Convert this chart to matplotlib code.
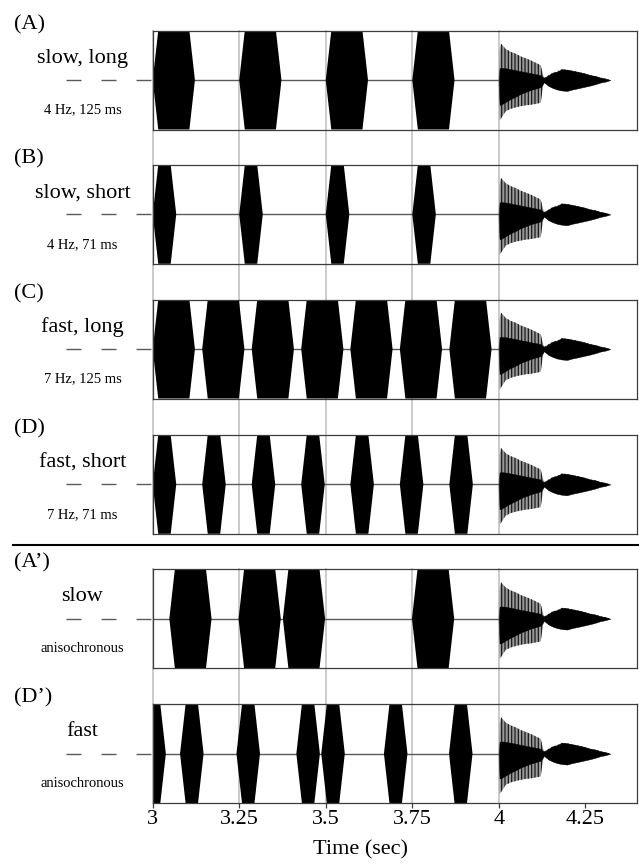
import matplotlib
matplotlib.use("Agg")
import matplotlib.pyplot as plt
from matplotlib.lines import Line2D
from matplotlib import transforms

plt.rcParams['font.family'] = ['Liberation Serif', 'DejaVu Serif']
plt.rcParams['hatch.linewidth'] = 0.9

# ---------------- data ----------------
panel_letters = ['(A)', '(B)', '(C)', '(D)', '(A\u2019)', '(D\u2019)']
panel_titles = ['slow, long', 'slow, short', 'fast, long', 'fast, short', 'slow', 'fast']
panel_notes = ['4 Hz, 125 ms', '4 Hz, 71 ms', '7 Hz, 125 ms', '7 Hz, 71 ms',
               'anisochronous', 'anisochronous']

onsets_A = [3.0, 3.25, 3.5, 3.75]
onsets_B = [3.0, 3.25, 3.5, 3.75]
onsets_C = [3.0, 3.143, 3.286, 3.429, 3.571, 3.714, 3.857]
onsets_D = [3.0, 3.143, 3.286, 3.429, 3.571, 3.714, 3.857]
onsets_A2 = [3.048, 3.248, 3.376, 3.749]
onsets_D2 = [2.970, 3.079, 3.242, 3.415, 3.487, 3.668, 3.856]
panel_onsets = [onsets_A, onsets_B, onsets_C, onsets_D, onsets_A2, onsets_D2]

dur_long = 0.122
dur_short = 0.068
panel_durations = [dur_long, dur_short, dur_long, dur_short, dur_long, dur_short]
ramp = 0.016

# click (target sound) envelope (relative amplitude)
click_t = [4.000, 4.002, 4.006, 4.020, 4.035, 4.050, 4.063, 4.078, 4.092, 4.107, 4.121,
           4.127, 4.131, 4.135, 4.144, 4.156, 4.168, 4.182, 4.197, 4.212, 4.226,
           4.245, 4.264, 4.280, 4.293, 4.308, 4.322]
click_outer_top = [0.0, 0.60, 0.74, 0.63, 0.57, 0.53, 0.48, 0.44, 0.40, 0.35, 0.30,
                   0.12, 0.05, 0.06, 0.10, 0.15, 0.17, 0.22, 0.21, 0.19, 0.17,
                   0.14, 0.10, 0.08, 0.05, 0.03, 0.0]
click_outer_bot = [0.0, -0.82, -0.78, -0.63, -0.58, -0.55, -0.53, -0.51, -0.50, -0.48, -0.46,
                   -0.15, -0.05, -0.07, -0.12, -0.16, -0.19, -0.21, -0.22, -0.19, -0.17,
                   -0.14, -0.11, -0.08, -0.05, -0.03, 0.0]
click_core_top = [0.0, 0.24, 0.25, 0.24, 0.22, 0.20, 0.18, 0.16, 0.14, 0.12, 0.10,
                  0.06, 0.04, 0.06, 0.10, 0.15, 0.17, 0.22, 0.21, 0.19, 0.17,
                  0.14, 0.10, 0.08, 0.05, 0.03, 0.0]
click_core_bot = [0.0, -0.50, -0.50, -0.44, -0.38, -0.33, -0.28, -0.24, -0.20, -0.17, -0.14,
                  -0.08, -0.04, -0.07, -0.12, -0.16, -0.19, -0.21, -0.22, -0.19, -0.17,
                  -0.14, -0.11, -0.08, -0.05, -0.03, 0.0]

grid_times = [3.0, 3.25, 3.5, 3.75, 4.0]
tick_values = [3.0, 3.25, 3.5, 3.75, 4.0, 4.25]
tick_labels = ['3', '3.25', '3.5', '3.75', '4', '4.25']
x_label = 'Time (sec)'

# ---------------- layout (pixels) ----------------
W, H = 639, 864
L, R = 152.7, 637.3
tops = [30.7, 165.0, 299.7, 435.0, 569.3, 704.3]
ph = 98.8
xlim = (3.0, 4.4)

fig = plt.figure(figsize=(W / 100, H / 100), dpi=100)
fig.patch.set_facecolor('white')


def fy(py):
    return 1 - py / H


axes = []
for i in range(6):
    ax = fig.add_axes([L / W, fy(tops[i] + ph), (R - L) / W, ph / H])
    ax.set_facecolor('none')
    ax.set_xlim(*xlim)
    ax.set_ylim(-1, 1)
    for s in ax.spines.values():
        s.set_color('#3c3c3c')
        s.set_linewidth(0.9)
        s.set_zorder(5)
    ax.set_yticks([])
    axes.append(ax)

    # silence baseline up to the click
    ax.hlines(0, xlim[0], click_t[0], color='#5a5a5a', lw=1.0, zorder=2)
    # bursts
    d = panel_durations[i]
    for on in panel_onsets[i]:
        xs = [on, on + ramp, on + d - ramp, on + d, on + d - ramp, on + ramp]
        ys = [0, 1, 1, 0, -1, -1]
        ax.fill(xs, ys, color='black', lw=0, zorder=3)
    # click: grey outer envelope with vertical striations, black core
    ax.fill_between(click_t, click_outer_bot, click_outer_top, facecolor='#9a9a9a',
                    edgecolor='#1a1a1a', hatch='|||||', lw=0, zorder=3)
    ax.fill_between(click_t, click_core_bot, click_core_top, color='black', lw=0.3,
                    edgecolor='black', zorder=4)

    # labels
    yc = tops[i] + ph / 2
    fig.text(14 / W, fy(tops[i] - 1.5), panel_letters[i], fontsize=16,
             ha='left', va='baseline')
    fig.text(82.5 / W, fy(yc - 17.3), panel_titles[i], fontsize=16,
             ha='center', va='baseline')
    fig.text(82.5 / W, fy(yc + 33.3), panel_notes[i], fontsize=10.5,
             ha='center', va='baseline')
    fig.add_artist(Line2D([66 / W, L / W], [fy(yc), fy(yc)], color='#5a5a5a', lw=1.0,
                          ls=(0, (10.8, 14.4))))

for ax in axes[:-1]:
    ax.set_xticks([])

axb = axes[-1]
axb.set_xticks(tick_values)
axb.set_xticklabels(tick_labels)
axb.tick_params(axis='x', direction='out', length=3.8, width=0.9, color='#3c3c3c',
                labelsize=16, pad=1.5)

# vertical grey time markers spanning the panel groups
blend = transforms.blended_transform_factory(axb.transData, fig.transFigure)
for (g0, g1) in [(0, 3), (4, 5)]:
    y_top = fy(tops[g0])
    y_bot = fy(tops[g1] + ph)
    for g in grid_times:
        fig.add_artist(Line2D([g, g], [y_bot, y_top], transform=blend,
                              color='#c2c2c2', lw=1.2, zorder=-1))

# separator
fig.add_artist(Line2D([13 / W, 1.0], [fy(545), fy(545)], color='black', lw=1.5))

fig.text(360.3 / W, fy(854), x_label, fontsize=16, ha='center', va='baseline')

fig.savefig('out.png', dpi=100)
